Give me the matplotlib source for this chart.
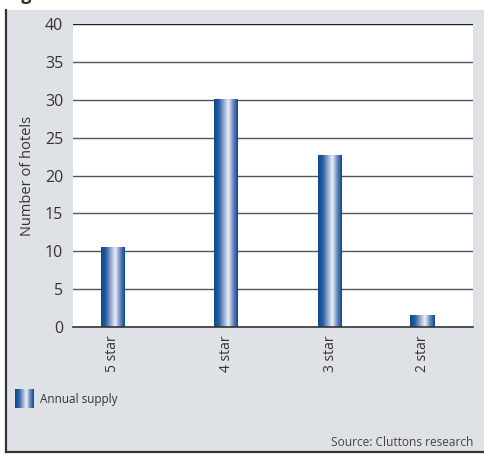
import numpy as np
import matplotlib.pyplot as plt
from matplotlib.colors import LinearSegmentedColormap
from matplotlib.patches import Rectangle

plt.rcParams['font.family'] = ['Open Sans', 'DejaVu Sans']

# Data
categories = ['5 star', '4 star', '3 star', '2 star']
supply = [10.5, 30, 22.6, 1.5]
yticks = [0, 5, 10, 15, 20, 25, 30, 35, 40]

# Bar centres along the category axis (axis runs 0..4)
centres = [0.40, 1.53, 2.57, 3.49]
bar_w = 0.24

panel = '#dee2e6'
blue_grad = LinearSegmentedColormap.from_list(
    'tube', ['#0b4790', '#2a5ea1', '#8fa6cf', '#eef0f8', '#6f8cc0', '#0b4790'],
)
ramp = np.linspace(0, 1, 64).reshape(1, -1)

fig = plt.figure(figsize=(4.84, 4.54), dpi=100, facecolor='white')

# grey panel with dark left and bottom border
fig.patches.append(Rectangle((5 / 484, 2 / 454), 1, 442 / 454, transform=fig.transFigure,
                             facecolor=panel, edgecolor='none', zorder=-5))
fig.lines.append(plt.Line2D([6 / 484, 6 / 484], [2 / 454, 444 / 454], transform=fig.transFigure,
                            color='#333333', lw=1.6, zorder=-4))
fig.lines.append(plt.Line2D([6 / 484, 1], [2.5 / 454, 2.5 / 454], transform=fig.transFigure,
                            color='#333333', lw=1.6, zorder=-4))
fig.text(6 / 484, 450 / 454, 'Figure 3.1', fontsize=13, fontweight='bold', color='#333333',
         ha='left', va='bottom')

ax = fig.add_axes([73 / 484, (454 - 327) / 454, 400 / 484, 303 / 454])
ax.set_facecolor('white')

for y in yticks[1:]:
    ax.axhline(y, color='#555555' if y < 40 else '#222222', lw=1.0, zorder=1)

for x, v in zip(centres, supply):
    ax.imshow(ramp, cmap=blue_grad, aspect='auto',
              extent=(x - bar_w / 2, x + bar_w / 2, 0, v), zorder=2, interpolation='bilinear')
ax.set_xlim(0, 4)
ax.set_ylim(0, 40)

ax.set_xticks(centres)
ax.set_xticklabels(categories, rotation=90, fontsize=10, color='#333333')
ax.set_yticks(yticks)
ax.set_yticklabels([str(t) for t in yticks], fontsize=11.5, color='#333333')
ax.tick_params(length=0, pad=6)
ax.tick_params(axis='y', pad=7)
for side in ['top', 'right', 'left']:
    ax.spines[side].set_visible(False)
ax.spines['bottom'].set_color('#333333')
ax.spines['bottom'].set_linewidth(1.2)
ax.set_ylabel('Number of hotels', fontsize=10.5, color='#333333', labelpad=7)

# legend swatch
lax = fig.add_axes([15 / 484, (454 - 408) / 454, 19 / 484, 19 / 454])
lax.imshow(ramp, cmap=blue_grad, aspect='auto', interpolation='bilinear')
lax.axis('off')
fig.text(40 / 484, (454 - 399) / 454, 'Annual supply', fontsize=8.5, color='#333333',
         ha='left', va='center')

fig.text(473 / 484, (454 - 442) / 454, 'Source: Cluttons research', fontsize=8.6,
         color='#444444', ha='right', va='center')

fig.savefig('out.png', dpi=100, facecolor='white')
